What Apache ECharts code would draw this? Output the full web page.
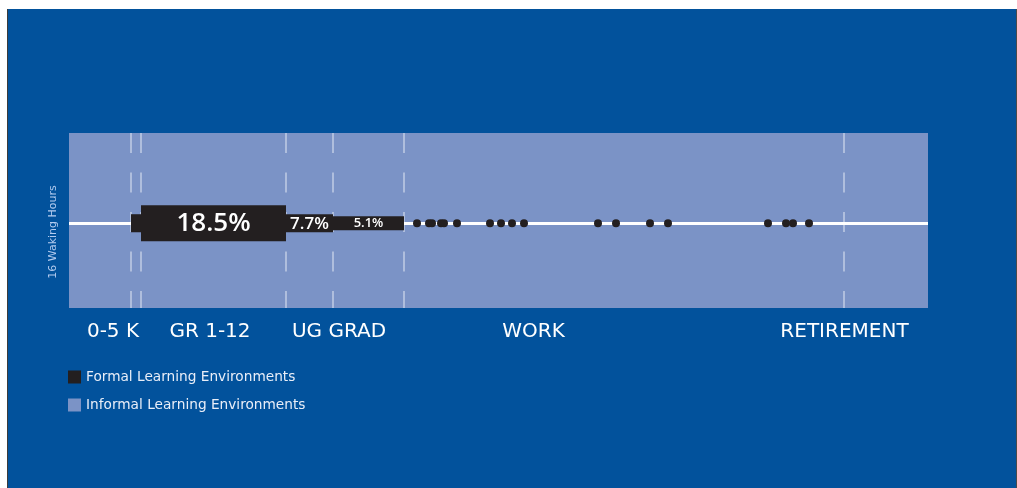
<!DOCTYPE html>
<html>
<head>
<meta charset="utf-8">
<script src="https://cdn.jsdelivr.net/npm/echarts@6/dist/echarts.min.js"></script>
<style>
  html, body { margin: 0; padding: 0; background: #ffffff; width: 1017px; height: 488px; overflow: hidden; }
  #frame { position: absolute; left: 7px; top: 9px; width: 1008px; height: 479px; background: #02529c;
           border-left: 1px solid #3c3c3c; border-right: 1px solid #4a4a4a; }
  #chart { position: absolute; left: 0; top: 0; width: 1017px; height: 488px; }
</style>
</head>
<body>
<div id="frame"></div>
<div id="chart"></div>
<script>
// ---- data (x in timeline units, y in waking hours) ----
const hoursRange = [0, 16];
const timelineSpan = [0, 85.9];
const centreHour = 7.75;

// formal learning blocks: start, end, thickness (hours), label
const blockNames   = ['0-5 K', 'GR 1-12', 'UG', 'GRAD'];
const blockStarts  = [6.2, 7.2, 21.7, 26.4];
const blockEnds    = [7.2, 21.7, 26.4, 33.5];
const blockHeights = [1.65, 3.3, 1.65, 1.3];
const blockLabels  = ['', '18.5%', '7.7%', '5.1%'];

// formal learning events during work / retirement
const eventPositions = [34.8, 36.0, 36.3, 37.2, 37.5, 38.8, 42.1, 43.2, 44.3, 45.5,
                        52.9, 54.7, 58.1, 59.9, 69.9, 71.7, 72.4, 74.0];

// dashed stage boundaries
const boundaries = [6.2, 7.2, 21.7, 26.4, 33.5, 77.5];

// stage tick labels
const stageNames     = ['0-5 K', 'GR 1-12', 'UG GRAD', 'WORK', 'RETIREMENT'];
const stagePositions = [4.4, 14.1, 27.0, 46.45, 77.55];

const formalName = 'Formal Learning Environments';
const informalName = 'Informal Learning Environments';

const chart = echarts.init(document.getElementById('chart'), null, { renderer: 'canvas' });

const blockData = blockNames.map((n, i) => [blockStarts[i], blockEnds[i], blockHeights[i], blockLabels[i]]);

chart.setOption({
  animation: false,
  backgroundColor: 'transparent',
  grid: { left: 69, right: 89, top: 133, bottom: 180 },
  legend: {
    data: [formalName, informalName],
    orient: 'vertical',
    left: 68, top: 370,
    itemWidth: 13, itemHeight: 13, itemGap: 14,
    icon: 'rect',
    padding: 0,
    selectedMode: false,
    textStyle: { color: '#e9eef8', fontSize: 13.7, fontFamily: 'DejaVu Sans' }
  },
  xAxis: {
    type: 'value',
    min: timelineSpan[0], max: timelineSpan[1],
    axisLine: { show: false }, axisTick: { show: false }, splitLine: { show: false },
    axisLabel: {
      customValues: stagePositions,
      formatter: v => {
        let best = 0;
        stagePositions.forEach((p, i) => { if (Math.abs(p - v) < Math.abs(stagePositions[best] - v)) best = i; });
        return stageNames[best];
      },
      color: '#ffffff', fontSize: 20, fontFamily: 'DejaVu Sans', margin: 14
    }
  },
  yAxis: {
    type: 'value',
    min: hoursRange[0], max: hoursRange[1],
    name: '16 Waking Hours',
    nameLocation: 'middle', nameRotate: 90, nameGap: 10,
    nameTextStyle: { color: '#b3cbef', fontSize: 11, fontFamily: 'DejaVu Sans', padding: [0, 23, 0, 0] },
    axisLine: { show: false }, axisTick: { show: false }, axisLabel: { show: false }, splitLine: { show: false }
  },
  series: [
    {
      name: informalName,
      type: 'custom',
      z: 1,
      itemStyle: { color: '#7b93c6' },
      data: [[timelineSpan[0], timelineSpan[1]]],
      renderItem: (params, api) => {
        const a = api.coord([api.value(0), hoursRange[1]]);
        const b = api.coord([api.value(1), hoursRange[0]]);
        return { type: 'rect', shape: { x: a[0], y: a[1], width: b[0] - a[0], height: b[1] - a[1] },
                 style: { fill: '#7b93c6' } };
      }
    },
    {
      name: 'boundaries',
      type: 'scatter',
      z: 2,
      data: [],
      markLine: {
        z: 2,
        silent: true, symbol: 'none', label: { show: false },
        lineStyle: { color: 'rgba(255,255,255,0.4)', width: 2, type: [20, 19.5] },
        data: boundaries.map(b => [{ coord: [b, hoursRange[1]] }, { coord: [b, hoursRange[0]] }])
      }
    },
    {
      name: 'centre',
      type: 'scatter',
      z: 3,
      data: [],
      markLine: {
        z: 3,
        silent: true, symbol: 'none', label: { show: false },
        lineStyle: { color: '#ffffff', width: 3, type: 'solid' },
        data: [[{ coord: [timelineSpan[0], centreHour] }, { coord: [timelineSpan[1], centreHour] }]]
      }
    },
    {
      name: formalName,
      type: 'custom',
      z: 4,
      itemStyle: { color: '#231f20' },
      data: blockData,
      renderItem: (params, api) => {
        const s = api.coord([api.value(0), centreHour]);
        const e = api.coord([api.value(1), centreHour]);
        const h = api.size([0, api.value(2)])[1];
        const label = blockData[params.dataIndex][3];
        const children = [{
          type: 'rect',
          shape: { x: s[0], y: s[1] - h / 2, width: e[0] - s[0], height: h },
          style: { fill: '#231f20' }
        }];
        if (label) {
          const fs = Math.min(26, Math.round(h * 0.93));
          children.push({
            type: 'text',
            style: {
              text: label, x: (s[0] + e[0]) / 2, y: s[1] + 0.5,
              align: 'center', verticalAlign: 'middle',
              fill: '#ffffff', font: '600 ' + fs + 'px "Open Sans"'
            }
          });
        }
        return { type: 'group', children };
      }
    },
    {
      name: formalName,
      type: 'scatter',
      z: 5,
      symbol: 'circle',
      symbolSize: 8,
      itemStyle: { color: '#231f20', opacity: 1 },
      data: eventPositions.map(x => [x, centreHour])
    }
  ]
});
</script>
</body>
</html>
